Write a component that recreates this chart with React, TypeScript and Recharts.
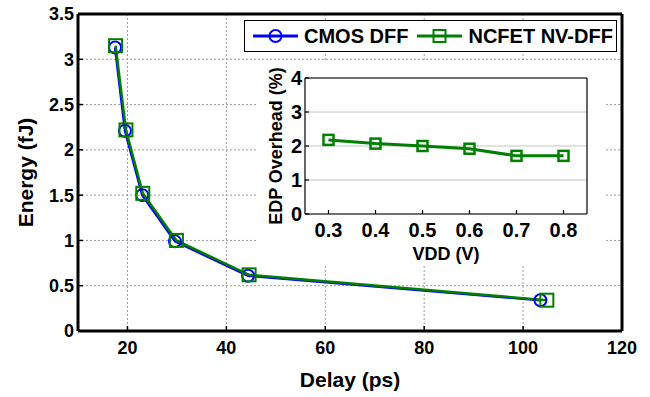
import React from "react";
import { CartesianGrid, Legend, Line, LineChart, XAxis, YAxis } from "recharts";

// main plot: energy vs delay
const cmosDelay = [17.5, 19.5, 23.0, 29.6, 44.4, 103.5];
const cmosEnergy = [3.13, 2.21, 1.5, 0.99, 0.61, 0.34];
const ncfetDelay = [17.6, 19.7, 23.1, 29.9, 44.6, 104.8];
const ncfetEnergy = [3.15, 2.22, 1.52, 1.0, 0.62, 0.34];
const delayTicks = [20, 40, 60, 80, 100, 120];
const energyTicks = [0, 0.5, 1, 1.5, 2, 2.5, 3, 3.5];
const seriesNames = ["CMOS DFF", "NCFET NV-DFF"];

// inset: EDP overhead vs VDD
const vdd = [0.3, 0.4, 0.5, 0.6, 0.7, 0.8];
const edpOverhead = [2.18, 2.07, 2.0, 1.92, 1.71, 1.71];
const edpTicks = [0, 1, 2, 3, 4];

const BLUE = "#0000ff";
const GREEN = "#008000";
const FONT = 'Arial, "Liberation Sans", Helvetica, sans-serif';

const cmosData = cmosDelay.map((x, i) => ({ x, y: cmosEnergy[i] }));
const ncfetData = ncfetDelay.map((x, i) => ({ x, y: ncfetEnergy[i] }));
const insetData = vdd.map((v, i) => ({ vdd: v, edp: edpOverhead[i] }));

const squareDot = (size: number, color: string, sw: number) => (props: any) => {
  const { cx, cy, index } = props;
  if (cx == null || cy == null) return <g key={`sq-${index}`} />;
  return (
    <rect
      key={`sq-${index}`}
      x={cx - size / 2}
      y={cy - size / 2}
      width={size}
      height={size}
      fill="none"
      stroke={color}
      strokeWidth={sw}
    />
  );
};

const XTitle = ({ viewBox, title, dy, size }: any) => {
  const vb = viewBox || { x: 0, y: 0, width: 0, height: 0 };
  return (
    <text
      x={vb.x + vb.width / 2}
      y={vb.y + dy}
      textAnchor="middle"
      fontFamily={FONT}
      fontWeight="bold"
      fontSize={size}
      fill="#000"
    >
      {title}
    </text>
  );
};

const YTitle = ({ viewBox, title, dx, size }: any) => {
  const vb = viewBox || { x: 0, y: 0, width: 0, height: 0 };
  const x = vb.x + dx;
  const y = vb.y + vb.height / 2;
  return (
    <text
      x={x}
      y={y}
      transform={`rotate(-90, ${x}, ${y})`}
      textAnchor="middle"
      fontFamily={FONT}
      fontWeight="bold"
      fontSize={size}
      fill="#000"
    >
      {title}
    </text>
  );
};

const renderLegend = (props: any) => {
  const items = props.payload || [];
  return (
    <div
      style={{
        boxSizing: "border-box",
        width: 373,
        height: 32,
        border: "1px solid #000",
        background: "#fff",
        display: "flex",
        alignItems: "center",
        paddingLeft: 8,
        fontFamily: FONT,
        fontWeight: "bold",
        fontSize: 20,
        color: "#000",
        whiteSpace: "nowrap",
      }}
    >
      {items.map((entry: any, i: number) => {
        const isSquare = seriesNames.indexOf(entry.value) === 1;
        const color = entry.color;
        return (
          <span key={`leg-${i}`} style={{ display: "flex", alignItems: "center", marginRight: 9 }}>
            <svg width={45} height={20}>
              <line x1={0} y1={10} x2={45} y2={10} stroke={color} strokeWidth={3} />
              {isSquare ? (
                <rect x={16.5} y={4} width={12} height={12} fill="none" stroke={color} strokeWidth={2} />
              ) : (
                <circle cx={22.5} cy={10} r={6} fill="none" stroke={color} strokeWidth={2} />
              )}
            </svg>
            <span style={{ marginLeft: 6 }}>{entry.value}</span>
          </span>
        );
      })}
    </div>
  );
};

const mainTick = { fill: "#000", fontSize: 18, fontWeight: "bold", fontFamily: FONT };
const insetTick = { fill: "#000", fontSize: 20, fontWeight: "bold", fontFamily: FONT };
const thickAxis = { stroke: "#000", strokeWidth: 3 };
const thinAxis = { stroke: "#000", strokeWidth: 1.2 };
const tickLn = { stroke: "#000", strokeWidth: 1.5 };

export default function App() {
  return (
    <div style={{ position: "absolute", left: 0, top: 0, width: 650, height: 397, background: "#fff" }}>
      <LineChart width={650} height={397} margin={{ top: 13, right: 27, bottom: 0, left: 0 }}>
        <CartesianGrid stroke="#9a9a9a" strokeDasharray="2 2" />
        <XAxis
          type="number"
          dataKey="x"
          domain={[10, 120]}
          ticks={delayTicks}
          allowDataOverflow
          height={66}
          tickSize={-5}
          tickMargin={15}
          axisLine={thickAxis}
          tickLine={tickLn}
          tick={mainTick}
          label={<XTitle title="Delay (ps)" dy={56} size={21} />}
        />
        <XAxis
          xAxisId="top"
          orientation="top"
          type="number"
          domain={[10, 120]}
          ticks={delayTicks}
          height={1}
          tickSize={-5}
          tick={false}
          axisLine={thickAxis}
          tickLine={tickLn}
        />
        <YAxis
          type="number"
          domain={[0, 3.5]}
          ticks={energyTicks}
          allowDataOverflow
          width={78}
          tickSize={-5}
          tickMargin={9}
          axisLine={thickAxis}
          tickLine={tickLn}
          tick={mainTick}
          label={<YTitle title="Energy (fJ)" dx={33} size={21} />}
        />
        <YAxis
          yAxisId="right"
          orientation="right"
          type="number"
          domain={[0, 3.5]}
          ticks={energyTicks}
          width={1}
          tickSize={-5}
          tick={false}
          axisLine={thickAxis}
          tickLine={tickLn}
        />
        <Line
          data={cmosData}
          dataKey="y"
          name={seriesNames[0]}
          stroke={BLUE}
          strokeWidth={2.5}
          dot={{ r: 6, fill: "none", stroke: BLUE, strokeWidth: 2 }}
          isAnimationActive={false}
        />
        <Line
          data={ncfetData}
          dataKey="y"
          name={seriesNames[1]}
          stroke={GREEN}
          strokeWidth={2.5}
          dot={squareDot(13, GREEN, 2)}
          isAnimationActive={false}
        />
        <Legend
          layout="horizontal"
          verticalAlign="middle"
          align="center"
          wrapperStyle={{ left: 244, top: 20, width: 373, height: 32 }}
          content={renderLegend}
        />
      </LineChart>

      <div style={{ position: "absolute", left: 258, top: 62, width: 347, height: 203, background: "#fff" }}>
        <LineChart width={347} height={203} data={insetData} margin={{ top: 15, right: 17, bottom: 0, left: 0 }}>
          <CartesianGrid vertical={false} stroke="#c4c4c4" />
          <XAxis
            type="number"
            dataKey="vdd"
            domain={[0.25, 0.85]}
            ticks={vdd}
            height={51}
            tickSize={-4}
            tickMargin={13}
            axisLine={thinAxis}
            tickLine={thinAxis}
            tick={insetTick}
            label={<XTitle title="VDD (V)" dy={46} size={18} />}
          />
          <XAxis
            xAxisId="top"
            orientation="top"
            type="number"
            domain={[0.25, 0.85]}
            ticks={vdd}
            height={1}
            tickSize={-4}
            tick={false}
            axisLine={thinAxis}
            tickLine={thinAxis}
          />
          <YAxis
            type="number"
            domain={[0, 4]}
            ticks={edpTicks}
            width={47}
            tickSize={-4}
            tickMargin={7}
            axisLine={thinAxis}
            tickLine={thinAxis}
            tick={insetTick}
            label={<YTitle title="EDP Overhead (%)" dx={24} size={18} />}
          />
          <YAxis
            yAxisId="right"
            orientation="right"
            type="number"
            domain={[0, 4]}
            ticks={edpTicks}
            width={1}
            tickSize={-4}
            tick={false}
            axisLine={thinAxis}
            tickLine={thinAxis}
          />
          <Line
            dataKey="edp"
            stroke={GREEN}
            strokeWidth={3}
            dot={squareDot(10, GREEN, 2.5)}
            isAnimationActive={false}
          />
        </LineChart>
      </div>
    </div>
  );
}
